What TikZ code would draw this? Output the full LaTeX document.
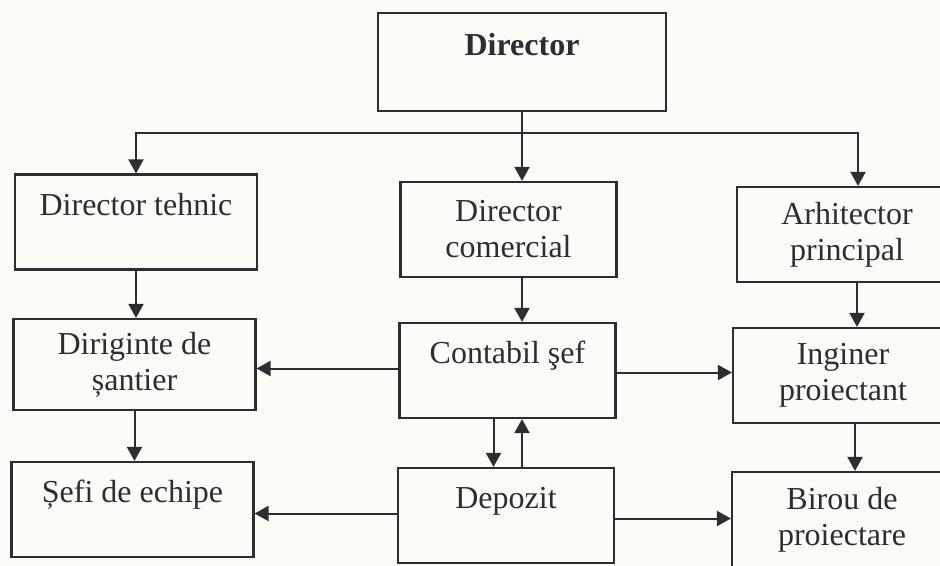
\documentclass[tikz,border=0pt]{standalone}
\usepackage{fontspec}
\setmainfont{Liberation Serif}
\usetikzlibrary{arrows.meta}
\definecolor{paper}{HTML}{FCFBF8}
\definecolor{ink}{HTML}{2E2E2E}
\tikzset{
  box/.style={draw=ink, line width=1.1pt, align=center, inner sep=0pt,
    minimum height=47.5pt, font=\fontsize{16}{18}\selectfont, text=ink},
  colL/.style={box, minimum width=121pt},
  colM/.style={box, minimum width=108pt},
  colR/.style={box, minimum width=110pt},
  arr/.style={draw=ink, line width=1pt, -{Triangle[width=7.5pt,length=7pt]}}
}
\begin{document}
\begin{tikzpicture}[x=0.5pt,y=-0.5pt]
\fill[paper](0,0)rectangle(940,566);
\clip(0,0)rectangle(940,566);
% top
\node[box,minimum width=144pt,minimum height=49pt,font=\fontsize{16}{18}\selectfont\bfseries](dir)at(522,62){Director\\~};
% first row
\node[colL](dteh)at(136,222){Director tehnic\\~};
\node[colM](dcom)at(508.5,229.5){Director\\comercial};
\node[colR](arh)at(847,234.5){Arhitector\\principal};
% second row
\node[colL,minimum height=45.5pt](dirig)at(134.5,364.5){Diriginte de\\șantier};
\node[colM](cont)at(507.5,370.5){Contabil şef\\~};
\node[colR](ing)at(843,375.5){Inginer\\proiectant};
% third row
\node[colL](sefi)at(132.5,509.5){Șefi de echipe\\~};
\node[colM](depo)at(506,515.5){Depozit\\~};
\node[colR](birou)at(842,519.5){Birou de\\proiectare};
% from the director
\path(dir.south)++(0,21)coordinate(bus);
\draw[ink,line width=1pt](dir.south)--(bus);
\draw[arr](bus)-|(dteh.north);
\draw[arr](bus)--(dir.south|-dcom.north);
\draw[arr](bus)-|([xshift=5.5pt]arh.north);
% columns
\draw[arr](dteh.south)--(dteh.south|-dirig.north);
\draw[arr](dirig.south)--(dirig.south|-sefi.north);
\draw[arr](dir.south|-dcom.south)--(dir.south|-cont.north);
\draw[arr]([xshift=5pt]arh.south)--([xshift=5pt]arh.south|-ing.north);
\draw[arr]([xshift=6pt]ing.south)--([xshift=6pt]ing.south|-birou.north);
\draw[arr]([xshift=-7pt]cont.south)--([xshift=-7pt]cont.south|-depo.north);
\draw[arr](dir.south|-depo.north)--(dir.south|-cont.south);
% sideways
\draw[arr]([yshift=1pt]cont.west)--([yshift=1pt]cont.west-|dirig.east);
\draw[arr]([yshift=-1pt]cont.east)--([yshift=-1pt]cont.east-|ing.west);
\draw[arr]([yshift=1pt]depo.west)--([yshift=1pt]depo.west-|sefi.east);
\draw[arr]([yshift=-1.5pt]depo.east)--([yshift=-1.5pt]depo.east-|birou.west);
\end{tikzpicture}
\end{document}
